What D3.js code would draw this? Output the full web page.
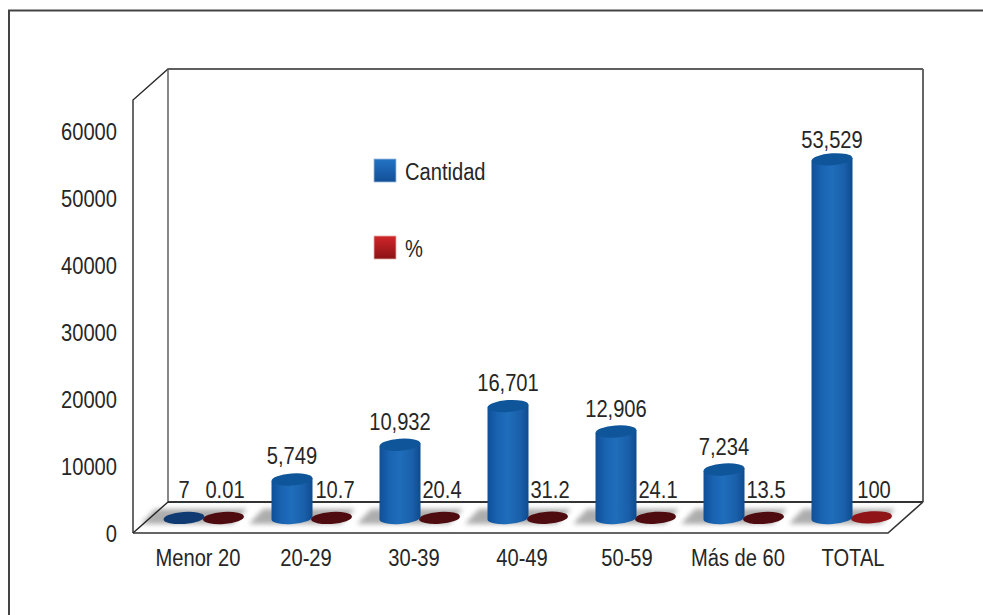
<!DOCTYPE html>
<html>
<head>
<meta charset="utf-8">
<script src="https://cdnjs.cloudflare.com/ajax/libs/d3/7.8.5/d3.min.js"></script>
<style>
  html, body { margin: 0; padding: 0; background: #fff; }
  svg { display: block; }
  text { font-family: "Liberation Sans", Arial, sans-serif; font-size: 23px; fill: #262626; }
</style>
</head>
<body>
<svg id="chart" width="983" height="615"></svg>
<script>
// Age groups and their two series
const categories = ["Menor 20", "20-29", "30-39", "40-49", "50-59", "Más de 60", "TOTAL"];
const cantidad = [7, 5749, 10932, 16701, 12906, 7234, 53529];
const porcentaje = [0.01, 10.7, 20.4, 31.2, 24.1, 13.5, 100];
const porcentajeLabels = ["0.01", "10.7", "20.4", "31.2", "24.1", "13.5", "100"];
const yTicks = [0, 10000, 20000, 30000, 40000, 50000, 60000];
const seriesNames = ["Cantidad", "%"];

const svg = d3.select("#chart");
const defs = svg.append("defs");

// Box geometry of the pseudo-3D plot: front plane plus a depth offset
const box = { left: 133, right: 888, bottom: 533, top: 100, dx: 35, dy: 31 };
const floorInset = 15;              // bars stand this far behind the front edge
const rx = 20.5, ry = 6, tilt = 4;

const x = d3.scaleBand().domain(categories).range([130, 886]);
const y = d3.scaleLinear().domain([0, 60000]).range([box.bottom, 131]);

function linear(id, stops, horizontal) {
  const g = defs.append("linearGradient").attr("id", id)
    .attr("x1", 0).attr("y1", 0)
    .attr("x2", horizontal ? 1 : 0).attr("y2", horizontal ? 0 : 1);
  stops.forEach(([o, c]) => g.append("stop").attr("offset", o).attr("stop-color", c));
}
linear("cyl", [[0, "#0f4f98"], [0.25, "#1a64b2"], [0.5, "#1f6dbb"], [0.8, "#1a5fa9"], [1, "#0f4b8f"]], true);
linear("legBlue", [[0, "#2373c4"], [1, "#124f97"]], false);
linear("legRed", [[0, "#d2262a"], [1, "#8a1316"]], false);
defs.append("filter").attr("id", "soft").attr("x", "-20%").attr("y", "-60%").attr("width", "140%").attr("height", "220%")
  .append("feGaussianBlur").attr("stdDeviation", 2.6);

// Frame around the figure: only the top and left rules are visible
svg.append("path").attr("d", "M9,615V10.5H983").attr("fill", "none").attr("stroke", "#444").attr("stroke-width", 2);

// Shadows cast on the floor, one per category
const shadow = svg.append("g").attr("filter", "url(#soft)");
shadow.selectAll("path").data(categories).join("path")
  .attr("d", c => {
    const l = x(c) + 19, r = l + 92;
    return `M${l - 8},524 L${l + 6},509 H${r + 6} L${r - 8},524 Z`;
  })
  .attr("fill", "#adadad");

// Walls and floor edges
const b = box;
const frameLines = [
  { d: `M${b.left},${b.bottom}V${b.top}L${b.left + b.dx},${b.top - b.dy}H${b.right + b.dx}`, c: "#2a2a2a", w: 1.4 },
  { d: `M${b.left + b.dx},${b.top - b.dy}V${b.bottom - b.dy}`, c: "#555", w: 1.4 },
  { d: `M${b.right + b.dx},${b.top - b.dy}V${b.bottom - b.dy}`, c: "#666", w: 2 },
  { d: `M${b.left + b.dx},${b.bottom - b.dy}H${b.right + b.dx}`, c: "#333", w: 1.8 },
  { d: `M${b.left},${b.bottom}L${b.left + b.dx},${b.bottom - b.dy}`, c: "#222", w: 1.4 },
  { d: `M${b.left},${b.bottom}H${b.right}L${b.right + b.dx},${b.bottom - b.dy}`, c: "#333", w: 1.6 }
];
svg.append("g").selectAll("path").data(frameLines).join("path")
  .attr("d", d => d.d).attr("fill", "none").attr("stroke", d => d.c).attr("stroke-width", d => d.w);

// Y axis labels, no tick marks
const yAxis = svg.append("g").attr("transform", `translate(${b.left},1)`)
  .call(d3.axisLeft(y).tickValues(yTicks).tickFormat(d3.format("d")).tickSize(0).tickPadding(16));
yAxis.select(".domain").remove();
yAxis.selectAll("text").style("font-size", "23px").style("font-family", '"Liberation Sans", Arial, sans-serif').attr("fill", "#262626");

// Category labels, with small shifts where the wider words sit off-centre
const categoryShift = [14, 14, 14, 14, 11, 14, 21];
svg.append("g").selectAll("text").data(categories).join("text")
  .attr("x", (c, i) => x(c) + x.bandwidth() / 2 + categoryShift[i])
  .attr("y", 566).attr("text-anchor", "middle").text(c => c);

const capColor = ["#0f3a72", "#0f5599", "#0f5599", "#0f5599", "#0f5599", "#0f5599", "#0f5599"];
const redColor = ["#4f0c10", "#4f0c10", "#4f0c10", "#4f0c10", "#4f0c10", "#4f0c10", "#8f1518"];
const dropY = v => y(v) - floorInset;
const base = dropY(0);
const skew = rx * Math.tan(tilt * Math.PI / 180);

// A cylinder: body down to the floor, elliptical cap on top
function cylinder(sel, cx, value, bodyFill, capFill) {
  const top = dropY(value);
  if (base - top > 1) {
    sel.append("path")
      .attr("d", `M${cx - rx},${top + skew} V${base + skew} A${rx},${ry} ${-tilt} 0 0 ${cx + rx},${base - skew} V${top - skew} Z`)
      .attr("fill", bodyFill);
  }
  sel.append("ellipse")
    .attr("cx", cx).attr("cy", top).attr("rx", rx).attr("ry", ry)
    .attr("transform", `rotate(${-tilt} ${cx} ${top})`)
    .attr("fill", capFill);
}

const marks = svg.append("g");
categories.forEach((c, i) => {
  const cx = x(c) + x.bandwidth() / 2;
  cylinder(marks.append("g"), cx + 39.5, porcentaje[i], "#4f0c10", redColor[i]);
  cylinder(marks.append("g"), cx, cantidad[i], "url(#cyl)", capColor[i]);
});

// Value labels: counts above the blue bars, percentages on the back floor edge
const fmt = d3.format(",");
const countGap = [20, 15, 15, 15, 15, 15, 11];
svg.append("g").selectAll("text").data(categories).join("text")
  .attr("x", c => x(c) + x.bandwidth() / 2)
  .attr("y", (c, i) => dropY(cantidad[i]) - countGap[i])
  .attr("text-anchor", "middle")
  .text((c, i) => fmt(cantidad[i]));
svg.append("g").selectAll("text").data(categories).join("text")
  .attr("x", (c, i) => x(c) + x.bandwidth() / 2 + (i === 0 ? 41 : i === 1 ? 43 : 42))
  .attr("y", 498).attr("text-anchor", "middle")
  .text((c, i) => porcentajeLabels[i]);

// Legend
const legend = svg.append("g").selectAll("g").data(seriesNames).join("g")
  .attr("transform", (d, i) => `translate(374,${159 + i * 77})`);
legend.append("rect").attr("width", 22).attr("height", 23)
  .attr("fill", (d, i) => i === 0 ? "url(#legBlue)" : "url(#legRed)")
  .attr("stroke", (d, i) => i === 0 ? "#9dbbdc" : "#e3b0a8").attr("stroke-width", 0.8);
legend.append("text").attr("x", 31).attr("y", 21).text(d => d);

// The typeface runs narrow: squeeze every label horizontally to 87.5%
svg.selectAll("text").each(function () {
  const t = d3.select(this);
  t.attr("lengthAdjust", "spacingAndGlyphs")
   .attr("textLength", this.getComputedTextLength() * 0.875);
});
</script>
</body>
</html>
